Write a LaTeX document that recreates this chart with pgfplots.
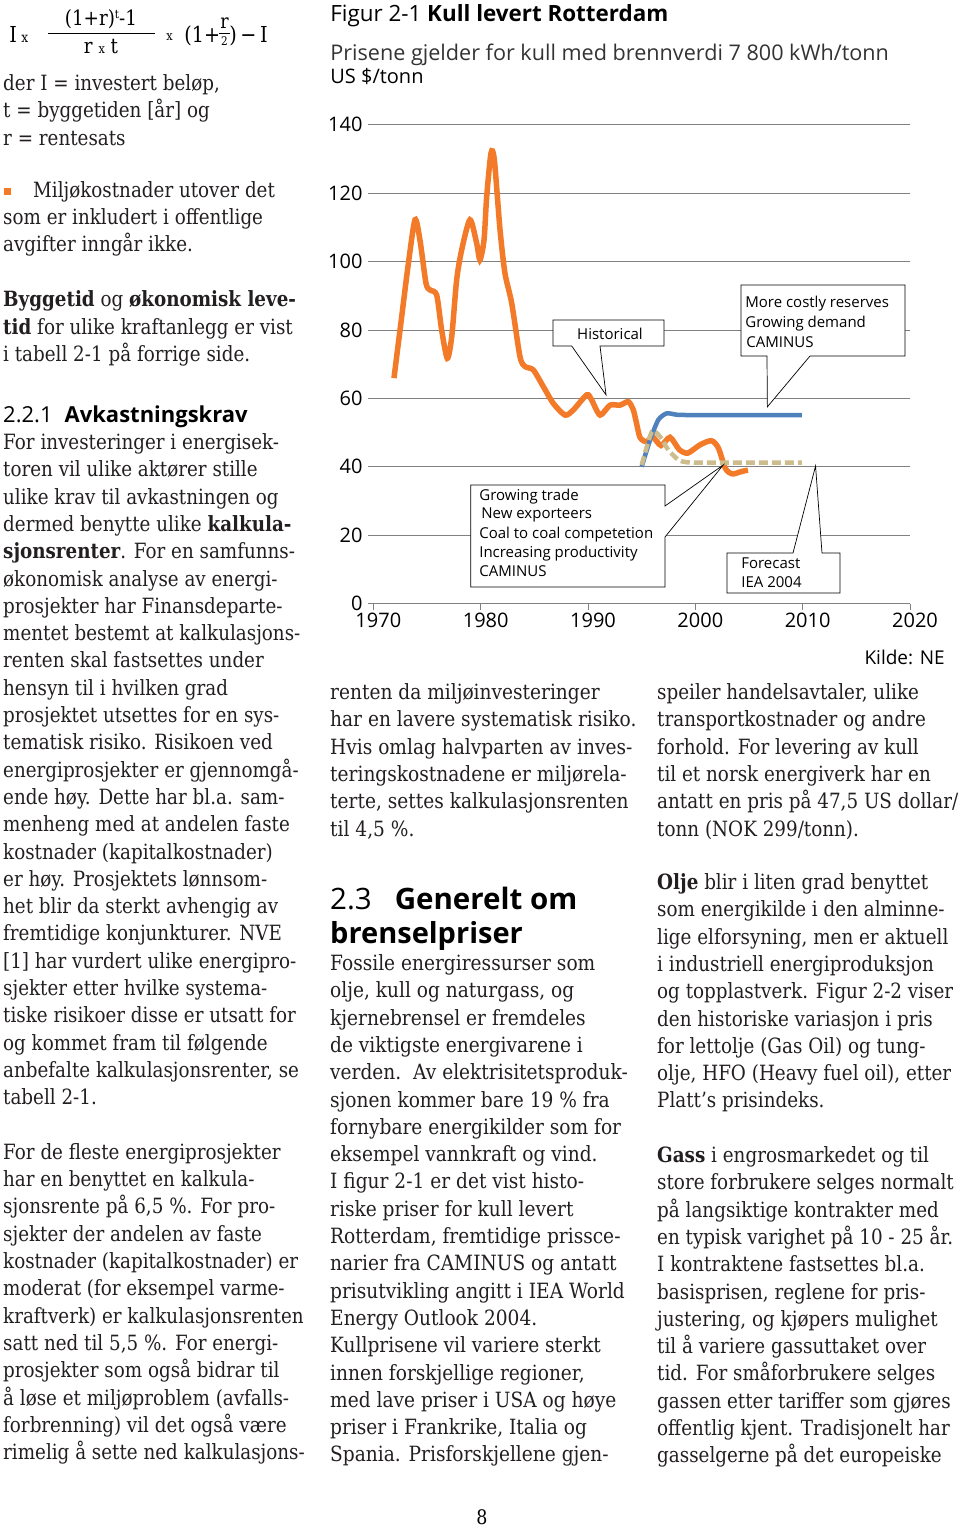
\documentclass[border=0pt]{standalone}
\usepackage{fontspec}
\usepackage{pgfplots}
\pgfplotsset{compat=1.18}
\setmainfont{DejaVu Serif}[FakeStretch=0.87]
\newfontfamily\bodyfont{DejaVu Serif}[FakeStretch=0.872]
\newfontfamily\bodyfontb{DejaVu Serif}[FakeStretch=0.885]
\newfontfamily\bodyfontc{DejaVu Serif}[FakeStretch=0.873]
\newfontfamily\chartfont{Open Sans}
\definecolor{corange}{RGB}{242,122,40}
\definecolor{cblue}{RGB}{79,129,189}
\definecolor{ctan}{RGB}{205,188,140}
\definecolor{cgrid}{RGB}{128,128,128}
\definecolor{txt}{RGB}{35,31,32}
\newcommand\bsize{\fontsize{21}{27}\selectfont}
\newdimen\ly
\def\lx{3pt}
\let\curbody\bodyfont
\newcommand\bline[1]{\node[anchor=base west,inner sep=0pt,font=\curbody\bsize,text=txt] at (\lx,-\the\ly) {#1};\global\advance\ly by 27.3pt\relax}
\newcommand\csize{\fontsize{15}{18}\selectfont}
\begin{document}
\begin{tikzpicture}
\path[use as bounding box] (0,0) rectangle (960pt,-1527pt);
\begin{axis}[
  at={(368pt,-603.5pt)}, anchor=south west,
  scale only axis, width=542pt, height=478.8pt,
  xmin=1969.5, xmax=2020, ymin=0, ymax=140,
  xtick={1970,1980,...,2020}, ytick={0,20,...,140},
  axis lines*=left, separate axis lines,
  x axis line style={draw=cgrid, line width=0.8pt},
  y axis line style={draw=none},
  ymajorgrids, grid style={draw=cgrid, line width=0.8pt},
  ytick style={draw=none},
  xtick style={draw=cgrid, line width=0.8pt},
  tick align=outside, major tick length=6pt,
  /pgf/number format/assume math mode=true,
  /pgf/number format/1000 sep={},
  ticklabel style={font=\chartfont\fontsize{20}{24}\selectfont, text=black},
  xticklabel style={xshift=5pt},
  yticklabel style={xshift=4pt},
  clip=false,
]
\addplot[corange, line width=5.5pt, smooth, tension=0.45, line cap=butt] coordinates {
(1971.92,65.9) (1972.64,83.9) (1973.26,99.4) (1973.88,112.2) (1974.34,106.3)
(1974.90,93.7) (1975.27,91.7) (1975.90,90.2) (1976.36,80.0) (1976.89,71.7)
(1977.30,78.0) (1977.76,94.6) (1978.23,103.4) (1979.00,112.2) (1979.62,105.4)
(1979.93,100.5) (1980.31,106.3) (1980.56,119.0) (1980.96,131.7) (1981.27,129.8)
(1981.80,109.3) (1982.26,96.6) (1982.89,87.8) (1983.66,72.2) (1984.13,69.3)
(1984.90,68.3) (1985.84,63.4) (1986.77,58.5) (1987.86,55.1) (1988.63,56.6)
(1989.88,61.0) (1990.34,59.5) (1991.12,55.1) (1992.05,58.0) (1992.98,58.0)
(1993.76,59.0) (1994.22,56.6) (1994.5,53.0) (1994.85,48.5) (1995.47,47.3)
(1996.0,48.8) (1996.8,46.2) (1997.64,48.6) (1998.5,45.0) (1999.3,44.0)
(2000.44,46.4) (2001.5,47.6) (2002.14,45.5) (2002.8,39.5) (2003.45,37.9)
(2004.3,38.6) (2004.9,39.0)
};
\addplot[cblue, line width=4.5pt, smooth, tension=0.4] coordinates {
(1995.0,40.0) (1995.78,47.8) (1996.55,53.7) (1997.33,55.6) (1998.27,55.2) (1999.5,55.1) (2002,55.1) (2006,55.1) (2009.92,55.1)
};
\addplot[ctan, line width=4.5pt, smooth, tension=0.4, dash pattern=on 9pt off 4pt] coordinates {
(1995.0,40.5) (1995.94,50.2) (1996.71,48.8) (1997.48,44.9) (1998.42,42.0) (1999.2,41.3) (2000.5,41.2) (2003,41.2) (2006.5,41.2) (2009.92,41.2)
};
\coordinate (tipH) at (axis cs:1991.68,61.0);
\coordinate (tipM) at (axis cs:2006.71,57.5);
\coordinate (tipG) at (axis cs:2002.6,40.5);
\coordinate (tipF) at (axis cs:2011.2,40.2);
\end{axis}
% callouts
\begin{scope}[x=1pt,y=-1pt, line width=0.7pt]
\draw[fill=white] (553,346) -- (571.7,346) -- (tipH) -- (600,346) -- (664,346) -- (664,320) -- (553,320) -- cycle;
\node[font=\chartfont\csize, anchor=base] at (610,339) {Historical};
\draw[fill=white] (741,356) -- (767,356) -- (tipM) -- (810,356) -- (905,356) -- (905,285) -- (741,285) -- cycle;
\node[font=\chartfont\csize, anchor=base west, inner sep=0] at (745,307) {More costly reserves};
\node[font=\chartfont\csize, anchor=base west, inner sep=0] at (745,327) {Growing demand};
\node[font=\chartfont\csize, anchor=base west, inner sep=0] at (746,347) {CAMINUS};
\draw[fill=white] (470.7,485) -- (665,485) -- (665,506) -- (tipG) -- (665,537) -- (665,587) -- (470.7,587) -- cycle;
\begin{scope}
\clip (470.7,485) rectangle (664.5,587);
\node[font=\chartfont\csize, anchor=base west, inner sep=0] at (479,500) {Growing trade};
\node[font=\chartfont\csize, anchor=base west, inner sep=0] at (481,518) {New exporteers};
\node[font=\chartfont\csize, anchor=base west, inner sep=0] at (479,538) {Coal to coal competetion};
\node[font=\chartfont\csize, anchor=base west, inner sep=0] at (479,557) {Increasing productivity};
\node[font=\chartfont\csize, anchor=base west, inner sep=0] at (479,576) {CAMINUS};
\end{scope}
\draw[fill=white] (727,553) -- (793,553) -- (tipF) -- (822,553) -- (840,553) -- (840,593) -- (727,593) -- cycle;
\node[font=\chartfont\csize, anchor=base west, inner sep=0] at (741,568) {Forecast};
\node[font=\chartfont\csize, anchor=base west, inner sep=0] at (741,587) {IEA 2004};
% chart titles
\node[font=\chartfont\fontsize{22.4}{27}\selectfont, anchor=base west, inner sep=0] at (330,21) {Figur 2-1 \textbf{Kull levert Rotterdam}};
\node[font=\chartfont\fontsize{21.6}{26}\selectfont, anchor=base west, inner sep=0, text=black!80] at (330,60) {Prisene gjelder for kull med brennverdi 7 800 kWh/tonn};
\node[font=\chartfont\fontsize{20}{24}\selectfont, anchor=base west, inner sep=0] at (330,83) {US \$/tonn};
\node[font=\chartfont\fontsize{19}{24}\selectfont, anchor=base east, inner sep=0] at (945,664) {Kilde: NE};
% formula
\node[font=\bodyfont\fontsize{22}{26}\selectfont, anchor=base west, inner sep=0] at (9,42.5) {I};
\node[font=\bodyfont\fontsize{14}{16}\selectfont, anchor=base west, inner sep=0] at (21,42.5) {x};
\node[font=\bodyfont\fontsize{21}{26}\selectfont, anchor=base, inner sep=0] at (101,25) {(1+r)\raisebox{7pt}{\fontsize{12}{12}\selectfont t}-1};
\draw[line width=0.8pt] (48,33.3) -- (155,33.3);
\node[font=\bodyfont\fontsize{21}{26}\selectfont, anchor=base, inner sep=0] at (101,53) {r {\fontsize{13}{14}\selectfont x} t};
\node[font=\bodyfont\fontsize{13}{14}\selectfont, anchor=base west, inner sep=0] at (166,40) {x};
\node[font=\bodyfont\fontsize{22}{26}\selectfont, anchor=base west, inner sep=0] at (184,42.7) {(1+};
\node[font=\bodyfont\fontsize{20}{24}\selectfont, anchor=base, inner sep=0] at (224.5,28) {r};
\draw[line width=0.6pt] (219,33) -- (230,33);
\node[font=\bodyfont\fontsize{12}{14}\selectfont, anchor=base, inner sep=0] at (224.5,45) {2};
\node[font=\bodyfont\fontsize{22}{26}\selectfont, anchor=base west, inner sep=0] at (229,42.7) {)\,−\,I};
\end{scope}
% left column text
\begin{scope}[x=1pt,y=-1pt]
\def\lx{3pt}
\global\ly=90.5pt
\bline{der I = investert beløp,}
\bline{t = byggetiden [år] og}
\bline{r = rentesats}
\fill[corange] (3.5,188) rectangle (10.5,195);
\global\ly=197.3pt
\def\lx{33pt}
\bline{Miljøkostnader utover det}
\def\lx{3pt}
\bline{som er inkludert i offentlige}
\bline{avgifter inngår ikke.}
\global\ly=306.7pt
\bline{\textbf{Byggetid} og \textbf{økonomisk leve-}}
\bline{\textbf{tid} for ulike kraftanlegg er vist}
\bline{i tabell 2-1 på forrige side.}
\node[font=\chartfont\fontsize{22}{26}\selectfont, anchor=base west, inner sep=0] at (3,422) {2.2.1\hspace{12pt}\textbf{Avkastningskrav}};
\global\ly=449.5pt
\bline{For investeringer i energisek-}
\bline{toren vil ulike aktører stille}
\bline{ulike krav til avkastningen og}
\bline{dermed benytte ulike \textbf{kalkula-}}
\bline{\textbf{sjonsrenter}. For en samfunns-}
\bline{økonomisk analyse av energi-}
\bline{prosjekter har Finansdeparte-}
\bline{mentet bestemt at kalkulasjons-}
\bline{renten skal fastsettes under}
\bline{hensyn til i hvilken grad}
\bline{prosjektet utsettes for en sys-}
\bline{tematisk risiko. Risikoen ved}
\bline{energiprosjekter er gjennomgå-}
\bline{ende høy. Dette har bl.a. sam-}
\bline{menheng med at andelen faste}
\bline{kostnader (kapitalkostnader)}
\bline{er høy. Prosjektets lønnsom-}
\bline{het blir da sterkt avhengig av}
\bline{fremtidige konjunkturer. NVE}
\bline{[1] har vurdert ulike energipro-}
\bline{sjekter etter hvilke systema-}
\bline{tiske risikoer disse er utsatt for}
\bline{og kommet fram til følgende}
\bline{anbefalte kalkulasjonsrenter, se}
\bline{tabell 2-1.}
\global\advance\ly by 27.3pt
\bline{For de fleste energiprosjekter}
\bline{har en benyttet en kalkula-}
\bline{sjonsrente på 6,5 \%. For pro-}
\bline{sjekter der andelen av faste}
\bline{kostnader (kapitalkostnader) er}
\bline{moderat (for eksempel varme-}
\bline{kraftverk) er kalkulasjonsrenten}
\bline{satt ned til 5,5 \%. For energi-}
\bline{prosjekter som også bidrar til}
\bline{å løse et miljøproblem (avfalls-}
\bline{forbrenning) vil det også være}
\bline{rimelig å sette ned kalkulasjons-}
% middle column
\let\curbody\bodyfontb
\def\lx{330pt}
\global\ly=699.5pt
\bline{renten da miljøinvesteringer}
\bline{har en lavere systematisk risiko.}
\bline{Hvis omlag halvparten av inves-}
\bline{teringskostnadene er miljørela-}
\bline{terte, settes kalkulasjonsrenten}
\bline{til 4,5 \%.}
\node[font=\chartfont\fontsize{29.5}{34}\selectfont, anchor=base west, inner sep=0] at (330,909) {2.3\hspace{23pt}\textbf{Generelt om}};
\node[font=\chartfont\fontsize{29}{34}\selectfont, anchor=base west, inner sep=0] at (330,943) {\textbf{brenselpriser}};
\global\ly=970.5pt
\bline{Fossile energiressurser som}
\bline{olje, kull og naturgass, og}
\bline{kjernebrensel er fremdeles}
\bline{de viktigste energivarene i}
\bline{verden.\ \ Av elektrisitetsproduk-}
\bline{sjonen kommer bare 19 \% fra}
\bline{fornybare energikilder som for}
\bline{eksempel vannkraft og vind.}
\bline{I figur 2-1 er det vist histo-}
\bline{riske priser for kull levert}
\bline{Rotterdam, fremtidige prissce-}
\bline{narier fra CAMINUS og antatt}
\bline{prisutvikling angitt i IEA World}
\bline{Energy Outlook 2004.}
\bline{Kullprisene vil variere sterkt}
\bline{innen forskjellige regioner,}
\bline{med lave priser i USA og høye}
\bline{priser i Frankrike, Italia og}
\bline{Spania. Prisforskjellene gjen-}
% right column
\let\curbody\bodyfontc
\def\lx{657pt}
\global\ly=699.5pt
\bline{speiler handelsavtaler, ulike}
\bline{transportkostnader og andre}
\bline{forhold. For levering av kull}
\bline{til et norsk energiverk har en}
\bline{antatt en pris på 47,5 US dollar/}
\bline{tonn (NOK 299/tonn).}
\global\ly=889.5pt
\bline{\textbf{Olje} blir i liten grad benyttet}
\bline{som energikilde i den alminne-}
\bline{lige elforsyning, men er aktuell}
\bline{i industriell energiproduksjon}
\bline{og topplastverk. Figur 2-2 viser}
\bline{den historiske variasjon i pris}
\bline{for lettolje (Gas Oil) og tung-}
\bline{olje, HFO (Heavy fuel oil), etter}
\bline{Platt’s prisindeks.}
\global\ly=1162.5pt
\bline{\textbf{Gass} i engrosmarkedet og til}
\bline{store forbrukere selges normalt}
\bline{på langsiktige kontrakter med}
\bline{en typisk varighet på 10 - 25 år.}
\bline{I kontraktene fastsettes bl.a.}
\bline{basisprisen, reglene for pris-}
\bline{justering, og kjøpers mulighet}
\bline{til å variere gassuttaket over}
\bline{tid. For småforbrukere selges}
\bline{gassen etter tariffer som gjøres}
\bline{offentlig kjent. Tradisjonelt har}
\bline{gasselgerne på det europeiske}
\node[font=\bodyfont\fontsize{20}{24}\selectfont, anchor=base, inner sep=0] at (482,1524) {8};
\end{scope}
\end{tikzpicture}
\end{document}
